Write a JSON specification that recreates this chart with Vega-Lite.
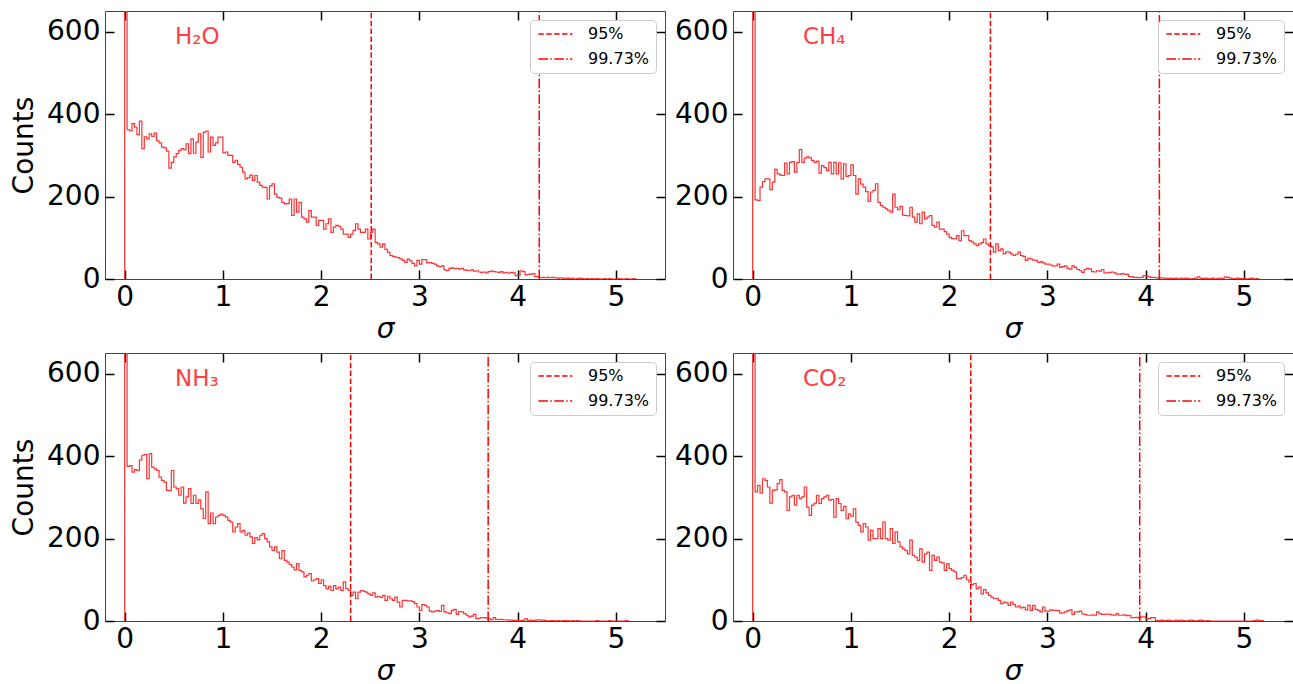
{
"$schema": "https://vega.github.io/schema/vega-lite/v6.json",
"background": "white",
"padding": {"left": 10, "top": 10, "right": 0, "bottom": 0},
"config": {
  "font": "DejaVu Sans",
  "view": {"stroke": null},
  "axis": {"labelFont": "DejaVu Sans", "labelFontSize": 28, "labelColor": "black", "titleFont": "DejaVu Sans", "titleFontSize": 28, "titleFontWeight": "normal", "titleColor": "black", "tickColor": "black", "tickWidth": 1.5, "tickSize": -9, "domainColor": "#444444", "domainWidth": 1, "grid": false, "zindex": 1},
  "legend": {"orient": "top-right", "offset": 9, "symbolType": "M-1,0H5", "symbolSize": 128, "symbolStrokeWidth": 1.5, "symbolStrokeColor": "#ff0000", "labelFont": "DejaVu Sans", "labelFontSize": 16, "labelColor": "black", "labelOffset": 36, "padding": 6, "rowPadding": 9, "fillColor": "white", "strokeColor": "#cccccc", "cornerRadius": 4},
  "title": {"font": "DejaVu Sans", "fontSize": 23, "fontWeight": "normal", "color": "#ff4040", "anchor": "start", "frame": "group", "baseline": "alphabetic", "dx": 70, "offset": -39}
},
"datasets": {
"lim": [
{"m":"H2O","k":"95%","v":2.51},{"m":"H2O","k":"99.73%","v":4.22},
{"m":"CH4","k":"95%","v":2.42},{"m":"CH4","k":"99.73%","v":4.14},
{"m":"NH3","k":"95%","v":2.30},{"m":"NH3","k":"99.73%","v":3.70},
{"m":"CO2","k":"95%","v":2.22},{"m":"CO2","k":"99.73%","v":3.94}
],
"hist": [
{"m":"H2O","x":0,"n":0},{"m":"H2O","x":0,"n":1500},
{"m":"H2O","x":0.025,"n":362},{"m":"H2O","x":0.05,"n":360},{"m":"H2O","x":0.075,"n":377},{"m":"H2O","x":0.1,"n":368},{"m":"H2O","x":0.125,"n":350},{"m":"H2O","x":0.15,"n":383},{"m":"H2O","x":0.175,"n":316},{"m":"H2O","x":0.2,"n":345},{"m":"H2O","x":0.225,"n":340},{"m":"H2O","x":0.25,"n":352},
{"m":"H2O","x":0.275,"n":346},{"m":"H2O","x":0.3,"n":354},{"m":"H2O","x":0.325,"n":335},{"m":"H2O","x":0.35,"n":330},{"m":"H2O","x":0.375,"n":320},{"m":"H2O","x":0.4,"n":318},{"m":"H2O","x":0.425,"n":310},{"m":"H2O","x":0.45,"n":269},{"m":"H2O","x":0.475,"n":283},{"m":"H2O","x":0.5,"n":296},
{"m":"H2O","x":0.525,"n":304},{"m":"H2O","x":0.55,"n":312},{"m":"H2O","x":0.575,"n":316},{"m":"H2O","x":0.6,"n":314},{"m":"H2O","x":0.625,"n":328},{"m":"H2O","x":0.65,"n":304},{"m":"H2O","x":0.675,"n":340},{"m":"H2O","x":0.7,"n":305},{"m":"H2O","x":0.725,"n":332},{"m":"H2O","x":0.75,"n":352},
{"m":"H2O","x":0.775,"n":295},{"m":"H2O","x":0.8,"n":356},{"m":"H2O","x":0.825,"n":359},{"m":"H2O","x":0.85,"n":308},{"m":"H2O","x":0.875,"n":344},{"m":"H2O","x":0.9,"n":324},{"m":"H2O","x":0.925,"n":330},{"m":"H2O","x":0.95,"n":344},{"m":"H2O","x":0.975,"n":344},{"m":"H2O","x":1,"n":306},
{"m":"H2O","x":1.025,"n":308},{"m":"H2O","x":1.05,"n":300},{"m":"H2O","x":1.075,"n":300},{"m":"H2O","x":1.1,"n":283},{"m":"H2O","x":1.125,"n":288},{"m":"H2O","x":1.15,"n":278},{"m":"H2O","x":1.175,"n":271},{"m":"H2O","x":1.2,"n":259},{"m":"H2O","x":1.225,"n":243},{"m":"H2O","x":1.25,"n":246},
{"m":"H2O","x":1.275,"n":252},{"m":"H2O","x":1.3,"n":239},{"m":"H2O","x":1.325,"n":251},{"m":"H2O","x":1.35,"n":235},{"m":"H2O","x":1.375,"n":227},{"m":"H2O","x":1.4,"n":223},{"m":"H2O","x":1.425,"n":222},{"m":"H2O","x":1.45,"n":194},{"m":"H2O","x":1.475,"n":226},{"m":"H2O","x":1.5,"n":231},
{"m":"H2O","x":1.525,"n":206},{"m":"H2O","x":1.55,"n":198},{"m":"H2O","x":1.575,"n":196},{"m":"H2O","x":1.6,"n":186},{"m":"H2O","x":1.625,"n":182},{"m":"H2O","x":1.65,"n":183},{"m":"H2O","x":1.675,"n":194},{"m":"H2O","x":1.7,"n":154},{"m":"H2O","x":1.725,"n":194},{"m":"H2O","x":1.75,"n":162},
{"m":"H2O","x":1.775,"n":186},{"m":"H2O","x":1.8,"n":150},{"m":"H2O","x":1.825,"n":146},{"m":"H2O","x":1.85,"n":138},{"m":"H2O","x":1.875,"n":166},{"m":"H2O","x":1.9,"n":150},{"m":"H2O","x":1.925,"n":150},{"m":"H2O","x":1.95,"n":130},{"m":"H2O","x":1.975,"n":142},{"m":"H2O","x":2,"n":142},
{"m":"H2O","x":2.025,"n":121},{"m":"H2O","x":2.05,"n":134},{"m":"H2O","x":2.075,"n":146},{"m":"H2O","x":2.1,"n":113},{"m":"H2O","x":2.125,"n":126},{"m":"H2O","x":2.15,"n":130},{"m":"H2O","x":2.175,"n":128},{"m":"H2O","x":2.2,"n":121},{"m":"H2O","x":2.225,"n":109},{"m":"H2O","x":2.25,"n":109},
{"m":"H2O","x":2.275,"n":101},{"m":"H2O","x":2.3,"n":109},{"m":"H2O","x":2.325,"n":118},{"m":"H2O","x":2.35,"n":134},{"m":"H2O","x":2.375,"n":121},{"m":"H2O","x":2.4,"n":113},{"m":"H2O","x":2.425,"n":113},{"m":"H2O","x":2.45,"n":121},{"m":"H2O","x":2.475,"n":97},{"m":"H2O","x":2.5,"n":113},
{"m":"H2O","x":2.525,"n":121},{"m":"H2O","x":2.55,"n":89},{"m":"H2O","x":2.575,"n":85},{"m":"H2O","x":2.6,"n":77},{"m":"H2O","x":2.625,"n":85},{"m":"H2O","x":2.65,"n":72},{"m":"H2O","x":2.675,"n":65},{"m":"H2O","x":2.7,"n":57},{"m":"H2O","x":2.725,"n":55},{"m":"H2O","x":2.75,"n":53},
{"m":"H2O","x":2.775,"n":52},{"m":"H2O","x":2.8,"n":49},{"m":"H2O","x":2.825,"n":45},{"m":"H2O","x":2.85,"n":40},{"m":"H2O","x":2.875,"n":48},{"m":"H2O","x":2.9,"n":44},{"m":"H2O","x":2.925,"n":38},{"m":"H2O","x":2.95,"n":32},{"m":"H2O","x":2.975,"n":45},{"m":"H2O","x":3,"n":36},
{"m":"H2O","x":3.025,"n":47},{"m":"H2O","x":3.05,"n":47},{"m":"H2O","x":3.075,"n":39},{"m":"H2O","x":3.1,"n":40},{"m":"H2O","x":3.125,"n":38},{"m":"H2O","x":3.15,"n":36},{"m":"H2O","x":3.175,"n":32},{"m":"H2O","x":3.2,"n":30},{"m":"H2O","x":3.225,"n":32},{"m":"H2O","x":3.25,"n":22},
{"m":"H2O","x":3.275,"n":20},{"m":"H2O","x":3.3,"n":26},{"m":"H2O","x":3.325,"n":27},{"m":"H2O","x":3.35,"n":25},{"m":"H2O","x":3.375,"n":26},{"m":"H2O","x":3.4,"n":24},{"m":"H2O","x":3.425,"n":26},{"m":"H2O","x":3.45,"n":22},{"m":"H2O","x":3.475,"n":21},{"m":"H2O","x":3.5,"n":20},
{"m":"H2O","x":3.525,"n":22},{"m":"H2O","x":3.55,"n":19},{"m":"H2O","x":3.575,"n":20},{"m":"H2O","x":3.6,"n":17},{"m":"H2O","x":3.625,"n":16},{"m":"H2O","x":3.65,"n":17},{"m":"H2O","x":3.675,"n":15},{"m":"H2O","x":3.7,"n":18},{"m":"H2O","x":3.725,"n":19},{"m":"H2O","x":3.75,"n":18},
{"m":"H2O","x":3.775,"n":17},{"m":"H2O","x":3.8,"n":16},{"m":"H2O","x":3.825,"n":18},{"m":"H2O","x":3.85,"n":15},{"m":"H2O","x":3.875,"n":16},{"m":"H2O","x":3.9,"n":14},{"m":"H2O","x":3.925,"n":16},{"m":"H2O","x":3.95,"n":15},{"m":"H2O","x":3.975,"n":8},{"m":"H2O","x":4,"n":9},
{"m":"H2O","x":4.025,"n":20},{"m":"H2O","x":4.05,"n":18},{"m":"H2O","x":4.075,"n":10},{"m":"H2O","x":4.1,"n":11},{"m":"H2O","x":4.125,"n":12},{"m":"H2O","x":4.15,"n":13},{"m":"H2O","x":4.175,"n":6},{"m":"H2O","x":4.2,"n":5},{"m":"H2O","x":4.225,"n":3},{"m":"H2O","x":4.25,"n":4},
{"m":"H2O","x":4.275,"n":3},{"m":"H2O","x":4.3,"n":4},{"m":"H2O","x":4.325,"n":3},{"m":"H2O","x":4.35,"n":4},{"m":"H2O","x":4.375,"n":3},{"m":"H2O","x":4.4,"n":2},{"m":"H2O","x":4.425,"n":3},{"m":"H2O","x":4.45,"n":2},{"m":"H2O","x":4.475,"n":1},{"m":"H2O","x":4.5,"n":2},
{"m":"H2O","x":4.525,"n":1},{"m":"H2O","x":4.55,"n":2},{"m":"H2O","x":4.575,"n":0},{"m":"H2O","x":4.6,"n":1},{"m":"H2O","x":4.625,"n":2},{"m":"H2O","x":4.65,"n":1},{"m":"H2O","x":4.675,"n":0},{"m":"H2O","x":4.7,"n":1},{"m":"H2O","x":4.725,"n":0},{"m":"H2O","x":4.75,"n":1},
{"m":"H2O","x":4.775,"n":0},{"m":"H2O","x":4.8,"n":1},{"m":"H2O","x":4.825,"n":0},{"m":"H2O","x":4.85,"n":0},{"m":"H2O","x":4.875,"n":1},{"m":"H2O","x":4.9,"n":0},{"m":"H2O","x":4.925,"n":1},{"m":"H2O","x":4.95,"n":0},{"m":"H2O","x":4.975,"n":0},{"m":"H2O","x":5,"n":0},
{"m":"H2O","x":5.025,"n":1},{"m":"H2O","x":5.05,"n":0},{"m":"H2O","x":5.075,"n":0},{"m":"H2O","x":5.1,"n":1},{"m":"H2O","x":5.125,"n":0},{"m":"H2O","x":5.15,"n":0},{"m":"H2O","x":5.175,"n":1},{"m":"H2O","x":5.2,"n":0},

{"m":"CH4","x":0,"n":0},{"m":"CH4","x":0,"n":1500},
{"m":"CH4","x":0.025,"n":192},{"m":"CH4","x":0.05,"n":190},{"m":"CH4","x":0.075,"n":223},{"m":"CH4","x":0.1,"n":236},{"m":"CH4","x":0.125,"n":243},{"m":"CH4","x":0.15,"n":243},{"m":"CH4","x":0.175,"n":217},{"m":"CH4","x":0.2,"n":235},{"m":"CH4","x":0.225,"n":266},{"m":"CH4","x":0.25,"n":255},
{"m":"CH4","x":0.275,"n":252},{"m":"CH4","x":0.3,"n":251},{"m":"CH4","x":0.325,"n":281},{"m":"CH4","x":0.35,"n":255},{"m":"CH4","x":0.375,"n":283},{"m":"CH4","x":0.4,"n":285},{"m":"CH4","x":0.425,"n":259},{"m":"CH4","x":0.45,"n":283},{"m":"CH4","x":0.475,"n":314},{"m":"CH4","x":0.5,"n":283},
{"m":"CH4","x":0.525,"n":293},{"m":"CH4","x":0.55,"n":296},{"m":"CH4","x":0.575,"n":294},{"m":"CH4","x":0.6,"n":287},{"m":"CH4","x":0.625,"n":283},{"m":"CH4","x":0.65,"n":286},{"m":"CH4","x":0.675,"n":257},{"m":"CH4","x":0.7,"n":275},{"m":"CH4","x":0.725,"n":270},{"m":"CH4","x":0.75,"n":263},
{"m":"CH4","x":0.775,"n":283},{"m":"CH4","x":0.8,"n":255},{"m":"CH4","x":0.825,"n":283},{"m":"CH4","x":0.85,"n":255},{"m":"CH4","x":0.875,"n":282},{"m":"CH4","x":0.9,"n":243},{"m":"CH4","x":0.925,"n":279},{"m":"CH4","x":0.95,"n":249},{"m":"CH4","x":0.975,"n":251},{"m":"CH4","x":1,"n":277},
{"m":"CH4","x":1.025,"n":251},{"m":"CH4","x":1.05,"n":206},{"m":"CH4","x":1.075,"n":243},{"m":"CH4","x":1.1,"n":230},{"m":"CH4","x":1.125,"n":223},{"m":"CH4","x":1.15,"n":212},{"m":"CH4","x":1.175,"n":188},{"m":"CH4","x":1.2,"n":211},{"m":"CH4","x":1.225,"n":215},{"m":"CH4","x":1.25,"n":231},
{"m":"CH4","x":1.275,"n":186},{"m":"CH4","x":1.3,"n":178},{"m":"CH4","x":1.325,"n":174},{"m":"CH4","x":1.35,"n":170},{"m":"CH4","x":1.375,"n":166},{"m":"CH4","x":1.4,"n":162},{"m":"CH4","x":1.425,"n":206},{"m":"CH4","x":1.45,"n":174},{"m":"CH4","x":1.475,"n":168},{"m":"CH4","x":1.5,"n":176},
{"m":"CH4","x":1.525,"n":155},{"m":"CH4","x":1.55,"n":154},{"m":"CH4","x":1.575,"n":153},{"m":"CH4","x":1.6,"n":174},{"m":"CH4","x":1.625,"n":150},{"m":"CH4","x":1.65,"n":138},{"m":"CH4","x":1.675,"n":158},{"m":"CH4","x":1.7,"n":134},{"m":"CH4","x":1.725,"n":162},{"m":"CH4","x":1.75,"n":146},
{"m":"CH4","x":1.775,"n":150},{"m":"CH4","x":1.8,"n":154},{"m":"CH4","x":1.825,"n":130},{"m":"CH4","x":1.85,"n":126},{"m":"CH4","x":1.875,"n":138},{"m":"CH4","x":1.9,"n":121},{"m":"CH4","x":1.925,"n":121},{"m":"CH4","x":1.95,"n":115},{"m":"CH4","x":1.975,"n":109},{"m":"CH4","x":2,"n":101},
{"m":"CH4","x":2.025,"n":98},{"m":"CH4","x":2.05,"n":97},{"m":"CH4","x":2.075,"n":105},{"m":"CH4","x":2.1,"n":93},{"m":"CH4","x":2.125,"n":117},{"m":"CH4","x":2.15,"n":105},{"m":"CH4","x":2.175,"n":105},{"m":"CH4","x":2.2,"n":93},{"m":"CH4","x":2.225,"n":90},{"m":"CH4","x":2.25,"n":85},
{"m":"CH4","x":2.275,"n":81},{"m":"CH4","x":2.3,"n":85},{"m":"CH4","x":2.325,"n":88},{"m":"CH4","x":2.35,"n":97},{"m":"CH4","x":2.375,"n":85},{"m":"CH4","x":2.4,"n":81},{"m":"CH4","x":2.425,"n":78},{"m":"CH4","x":2.45,"n":65},{"m":"CH4","x":2.475,"n":85},{"m":"CH4","x":2.5,"n":69},
{"m":"CH4","x":2.525,"n":73},{"m":"CH4","x":2.55,"n":61},{"m":"CH4","x":2.575,"n":66},{"m":"CH4","x":2.6,"n":65},{"m":"CH4","x":2.625,"n":61},{"m":"CH4","x":2.65,"n":57},{"m":"CH4","x":2.675,"n":60},{"m":"CH4","x":2.7,"n":65},{"m":"CH4","x":2.725,"n":57},{"m":"CH4","x":2.75,"n":55},
{"m":"CH4","x":2.775,"n":45},{"m":"CH4","x":2.8,"n":50},{"m":"CH4","x":2.825,"n":48},{"m":"CH4","x":2.85,"n":46},{"m":"CH4","x":2.875,"n":45},{"m":"CH4","x":2.9,"n":40},{"m":"CH4","x":2.925,"n":42},{"m":"CH4","x":2.95,"n":39},{"m":"CH4","x":2.975,"n":36},{"m":"CH4","x":3,"n":36},
{"m":"CH4","x":3.025,"n":34},{"m":"CH4","x":3.05,"n":32},{"m":"CH4","x":3.075,"n":32},{"m":"CH4","x":3.1,"n":36},{"m":"CH4","x":3.125,"n":28},{"m":"CH4","x":3.15,"n":30},{"m":"CH4","x":3.175,"n":32},{"m":"CH4","x":3.2,"n":26},{"m":"CH4","x":3.225,"n":24},{"m":"CH4","x":3.25,"n":32},
{"m":"CH4","x":3.275,"n":28},{"m":"CH4","x":3.3,"n":23},{"m":"CH4","x":3.325,"n":20},{"m":"CH4","x":3.35,"n":16},{"m":"CH4","x":3.375,"n":23},{"m":"CH4","x":3.4,"n":26},{"m":"CH4","x":3.425,"n":24},{"m":"CH4","x":3.45,"n":18},{"m":"CH4","x":3.475,"n":17},{"m":"CH4","x":3.5,"n":20},
{"m":"CH4","x":3.525,"n":19},{"m":"CH4","x":3.55,"n":23},{"m":"CH4","x":3.575,"n":15},{"m":"CH4","x":3.6,"n":15},{"m":"CH4","x":3.625,"n":16},{"m":"CH4","x":3.65,"n":17},{"m":"CH4","x":3.675,"n":15},{"m":"CH4","x":3.7,"n":12},{"m":"CH4","x":3.725,"n":12},{"m":"CH4","x":3.75,"n":13},
{"m":"CH4","x":3.775,"n":12},{"m":"CH4","x":3.8,"n":11},{"m":"CH4","x":3.825,"n":6},{"m":"CH4","x":3.85,"n":6},{"m":"CH4","x":3.875,"n":4},{"m":"CH4","x":3.9,"n":4},{"m":"CH4","x":3.925,"n":3},{"m":"CH4","x":3.95,"n":4},{"m":"CH4","x":3.975,"n":8},{"m":"CH4","x":4,"n":7},
{"m":"CH4","x":4.025,"n":5},{"m":"CH4","x":4.05,"n":4},{"m":"CH4","x":4.075,"n":4},{"m":"CH4","x":4.1,"n":3},{"m":"CH4","x":4.125,"n":2},{"m":"CH4","x":4.15,"n":3},{"m":"CH4","x":4.175,"n":2},{"m":"CH4","x":4.2,"n":2},{"m":"CH4","x":4.225,"n":1},{"m":"CH4","x":4.25,"n":2},
{"m":"CH4","x":4.275,"n":1},{"m":"CH4","x":4.3,"n":2},{"m":"CH4","x":4.325,"n":0},{"m":"CH4","x":4.35,"n":2},{"m":"CH4","x":4.375,"n":1},{"m":"CH4","x":4.4,"n":2},{"m":"CH4","x":4.425,"n":1},{"m":"CH4","x":4.45,"n":0},{"m":"CH4","x":4.475,"n":1},{"m":"CH4","x":4.5,"n":2},
{"m":"CH4","x":4.525,"n":5},{"m":"CH4","x":4.55,"n":2},{"m":"CH4","x":4.575,"n":1},{"m":"CH4","x":4.6,"n":2},{"m":"CH4","x":4.625,"n":1},{"m":"CH4","x":4.65,"n":1},{"m":"CH4","x":4.675,"n":2},{"m":"CH4","x":4.7,"n":0},{"m":"CH4","x":4.725,"n":1},{"m":"CH4","x":4.75,"n":2},
{"m":"CH4","x":4.775,"n":1},{"m":"CH4","x":4.8,"n":5},{"m":"CH4","x":4.825,"n":4},{"m":"CH4","x":4.85,"n":2},{"m":"CH4","x":4.875,"n":1},{"m":"CH4","x":4.9,"n":1},{"m":"CH4","x":4.925,"n":2},{"m":"CH4","x":4.95,"n":1},{"m":"CH4","x":4.975,"n":1},{"m":"CH4","x":5,"n":1},
{"m":"CH4","x":5.025,"n":0},{"m":"CH4","x":5.05,"n":1},{"m":"CH4","x":5.075,"n":2},{"m":"CH4","x":5.1,"n":0},{"m":"CH4","x":5.125,"n":1},{"m":"CH4","x":5.15,"n":0},

{"m":"NH3","x":0,"n":0},{"m":"NH3","x":0,"n":1500},
{"m":"NH3","x":0.025,"n":375},{"m":"NH3","x":0.05,"n":377},{"m":"NH3","x":0.075,"n":361},{"m":"NH3","x":0.1,"n":367},{"m":"NH3","x":0.125,"n":365},{"m":"NH3","x":0.15,"n":390},{"m":"NH3","x":0.175,"n":402},{"m":"NH3","x":0.2,"n":404},{"m":"NH3","x":0.225,"n":345},{"m":"NH3","x":0.25,"n":406},
{"m":"NH3","x":0.275,"n":373},{"m":"NH3","x":0.3,"n":369},{"m":"NH3","x":0.325,"n":365},{"m":"NH3","x":0.35,"n":349},{"m":"NH3","x":0.375,"n":341},{"m":"NH3","x":0.4,"n":337},{"m":"NH3","x":0.425,"n":317},{"m":"NH3","x":0.45,"n":316},{"m":"NH3","x":0.475,"n":365},{"m":"NH3","x":0.5,"n":325},
{"m":"NH3","x":0.525,"n":321},{"m":"NH3","x":0.55,"n":305},{"m":"NH3","x":0.575,"n":325},{"m":"NH3","x":0.6,"n":286},{"m":"NH3","x":0.625,"n":301},{"m":"NH3","x":0.65,"n":321},{"m":"NH3","x":0.675,"n":285},{"m":"NH3","x":0.7,"n":305},{"m":"NH3","x":0.725,"n":285},{"m":"NH3","x":0.75,"n":294},
{"m":"NH3","x":0.775,"n":272},{"m":"NH3","x":0.8,"n":248},{"m":"NH3","x":0.825,"n":313},{"m":"NH3","x":0.85,"n":236},{"m":"NH3","x":0.875,"n":262},{"m":"NH3","x":0.9,"n":236},{"m":"NH3","x":0.925,"n":252},{"m":"NH3","x":0.95,"n":256},{"m":"NH3","x":0.975,"n":259},{"m":"NH3","x":1,"n":256},
{"m":"NH3","x":1.025,"n":252},{"m":"NH3","x":1.05,"n":244},{"m":"NH3","x":1.075,"n":240},{"m":"NH3","x":1.1,"n":216},{"m":"NH3","x":1.125,"n":228},{"m":"NH3","x":1.15,"n":236},{"m":"NH3","x":1.175,"n":216},{"m":"NH3","x":1.2,"n":220},{"m":"NH3","x":1.225,"n":208},{"m":"NH3","x":1.25,"n":213},
{"m":"NH3","x":1.275,"n":204},{"m":"NH3","x":1.3,"n":188},{"m":"NH3","x":1.325,"n":202},{"m":"NH3","x":1.35,"n":197},{"m":"NH3","x":1.375,"n":208},{"m":"NH3","x":1.4,"n":212},{"m":"NH3","x":1.425,"n":200},{"m":"NH3","x":1.45,"n":192},{"m":"NH3","x":1.475,"n":180},{"m":"NH3","x":1.5,"n":171},
{"m":"NH3","x":1.525,"n":180},{"m":"NH3","x":1.55,"n":167},{"m":"NH3","x":1.575,"n":151},{"m":"NH3","x":1.6,"n":171},{"m":"NH3","x":1.625,"n":147},{"m":"NH3","x":1.65,"n":143},{"m":"NH3","x":1.675,"n":137},{"m":"NH3","x":1.7,"n":131},{"m":"NH3","x":1.725,"n":124},{"m":"NH3","x":1.75,"n":139},
{"m":"NH3","x":1.775,"n":123},{"m":"NH3","x":1.8,"n":119},{"m":"NH3","x":1.825,"n":107},{"m":"NH3","x":1.85,"n":111},{"m":"NH3","x":1.875,"n":115},{"m":"NH3","x":1.9,"n":97},{"m":"NH3","x":1.925,"n":100},{"m":"NH3","x":1.95,"n":103},{"m":"NH3","x":1.975,"n":91},{"m":"NH3","x":2,"n":100},
{"m":"NH3","x":2.025,"n":86},{"m":"NH3","x":2.05,"n":78},{"m":"NH3","x":2.075,"n":84},{"m":"NH3","x":2.1,"n":74},{"m":"NH3","x":2.125,"n":86},{"m":"NH3","x":2.15,"n":78},{"m":"NH3","x":2.175,"n":82},{"m":"NH3","x":2.2,"n":74},{"m":"NH3","x":2.225,"n":95},{"m":"NH3","x":2.25,"n":78},
{"m":"NH3","x":2.275,"n":74},{"m":"NH3","x":2.3,"n":62},{"m":"NH3","x":2.325,"n":70},{"m":"NH3","x":2.35,"n":54},{"m":"NH3","x":2.375,"n":70},{"m":"NH3","x":2.4,"n":74},{"m":"NH3","x":2.425,"n":72},{"m":"NH3","x":2.45,"n":70},{"m":"NH3","x":2.475,"n":66},{"m":"NH3","x":2.5,"n":62},
{"m":"NH3","x":2.525,"n":68},{"m":"NH3","x":2.55,"n":58},{"m":"NH3","x":2.575,"n":60},{"m":"NH3","x":2.6,"n":57},{"m":"NH3","x":2.625,"n":62},{"m":"NH3","x":2.65,"n":50},{"m":"NH3","x":2.675,"n":60},{"m":"NH3","x":2.7,"n":54},{"m":"NH3","x":2.725,"n":50},{"m":"NH3","x":2.75,"n":58},
{"m":"NH3","x":2.775,"n":46},{"m":"NH3","x":2.8,"n":34},{"m":"NH3","x":2.825,"n":50},{"m":"NH3","x":2.85,"n":50},{"m":"NH3","x":2.875,"n":49},{"m":"NH3","x":2.9,"n":49},{"m":"NH3","x":2.925,"n":47},{"m":"NH3","x":2.95,"n":42},{"m":"NH3","x":2.975,"n":34},{"m":"NH3","x":3,"n":26},
{"m":"NH3","x":3.025,"n":40},{"m":"NH3","x":3.05,"n":38},{"m":"NH3","x":3.075,"n":34},{"m":"NH3","x":3.1,"n":24},{"m":"NH3","x":3.125,"n":22},{"m":"NH3","x":3.15,"n":24},{"m":"NH3","x":3.175,"n":25},{"m":"NH3","x":3.2,"n":23},{"m":"NH3","x":3.225,"n":38},{"m":"NH3","x":3.25,"n":22},
{"m":"NH3","x":3.275,"n":20},{"m":"NH3","x":3.3,"n":18},{"m":"NH3","x":3.325,"n":26},{"m":"NH3","x":3.35,"n":28},{"m":"NH3","x":3.375,"n":16},{"m":"NH3","x":3.4,"n":23},{"m":"NH3","x":3.425,"n":22},{"m":"NH3","x":3.45,"n":18},{"m":"NH3","x":3.475,"n":14},{"m":"NH3","x":3.5,"n":10},
{"m":"NH3","x":3.525,"n":12},{"m":"NH3","x":3.55,"n":16},{"m":"NH3","x":3.575,"n":6},{"m":"NH3","x":3.6,"n":7},{"m":"NH3","x":3.625,"n":8},{"m":"NH3","x":3.65,"n":8},{"m":"NH3","x":3.675,"n":7},{"m":"NH3","x":3.7,"n":5},{"m":"NH3","x":3.725,"n":3},{"m":"NH3","x":3.75,"n":8},
{"m":"NH3","x":3.775,"n":4},{"m":"NH3","x":3.8,"n":3},{"m":"NH3","x":3.825,"n":4},{"m":"NH3","x":3.85,"n":3},{"m":"NH3","x":3.875,"n":3},{"m":"NH3","x":3.9,"n":2},{"m":"NH3","x":3.925,"n":2},{"m":"NH3","x":3.95,"n":1},{"m":"NH3","x":3.975,"n":2},{"m":"NH3","x":4,"n":1},
{"m":"NH3","x":4.025,"n":1},{"m":"NH3","x":4.05,"n":2},{"m":"NH3","x":4.075,"n":5},{"m":"NH3","x":4.1,"n":1},{"m":"NH3","x":4.125,"n":2},{"m":"NH3","x":4.15,"n":1},{"m":"NH3","x":4.175,"n":2},{"m":"NH3","x":4.2,"n":3},{"m":"NH3","x":4.225,"n":2},{"m":"NH3","x":4.25,"n":2},
{"m":"NH3","x":4.275,"n":1},{"m":"NH3","x":4.3,"n":0},{"m":"NH3","x":4.325,"n":1},{"m":"NH3","x":4.35,"n":1},{"m":"NH3","x":4.375,"n":0},{"m":"NH3","x":4.4,"n":1},{"m":"NH3","x":4.425,"n":0},{"m":"NH3","x":4.45,"n":1},{"m":"NH3","x":4.475,"n":1},{"m":"NH3","x":4.5,"n":1},
{"m":"NH3","x":4.525,"n":0},{"m":"NH3","x":4.55,"n":1},{"m":"NH3","x":4.575,"n":0},{"m":"NH3","x":4.6,"n":1},{"m":"NH3","x":4.625,"n":0},{"m":"NH3","x":4.65,"n":0},{"m":"NH3","x":4.675,"n":0},{"m":"NH3","x":4.7,"n":0},{"m":"NH3","x":4.725,"n":0},{"m":"NH3","x":4.75,"n":0},
{"m":"NH3","x":4.775,"n":0},{"m":"NH3","x":4.8,"n":1},{"m":"NH3","x":4.825,"n":0},{"m":"NH3","x":4.85,"n":0},{"m":"NH3","x":4.875,"n":0},{"m":"NH3","x":4.9,"n":0},{"m":"NH3","x":4.925,"n":1},{"m":"NH3","x":4.95,"n":0},{"m":"NH3","x":4.975,"n":0},{"m":"NH3","x":5,"n":0},
{"m":"NH3","x":5.025,"n":0},{"m":"NH3","x":5.05,"n":0},{"m":"NH3","x":5.075,"n":0},{"m":"NH3","x":5.1,"n":1},{"m":"NH3","x":5.125,"n":0},

{"m":"CO2","x":0,"n":0},{"m":"CO2","x":0,"n":1500},
{"m":"CO2","x":0.025,"n":313},{"m":"CO2","x":0.05,"n":329},{"m":"CO2","x":0.075,"n":310},{"m":"CO2","x":0.1,"n":345},{"m":"CO2","x":0.125,"n":341},{"m":"CO2","x":0.15,"n":325},{"m":"CO2","x":0.175,"n":286},{"m":"CO2","x":0.2,"n":317},{"m":"CO2","x":0.225,"n":318},{"m":"CO2","x":0.25,"n":333},
{"m":"CO2","x":0.275,"n":343},{"m":"CO2","x":0.3,"n":317},{"m":"CO2","x":0.325,"n":313},{"m":"CO2","x":0.35,"n":268},{"m":"CO2","x":0.375,"n":301},{"m":"CO2","x":0.4,"n":305},{"m":"CO2","x":0.425,"n":281},{"m":"CO2","x":0.45,"n":305},{"m":"CO2","x":0.475,"n":297},{"m":"CO2","x":0.5,"n":301},
{"m":"CO2","x":0.525,"n":325},{"m":"CO2","x":0.55,"n":276},{"m":"CO2","x":0.575,"n":256},{"m":"CO2","x":0.6,"n":281},{"m":"CO2","x":0.625,"n":286},{"m":"CO2","x":0.65,"n":305},{"m":"CO2","x":0.675,"n":285},{"m":"CO2","x":0.7,"n":297},{"m":"CO2","x":0.725,"n":301},{"m":"CO2","x":0.75,"n":305},
{"m":"CO2","x":0.775,"n":293},{"m":"CO2","x":0.8,"n":295},{"m":"CO2","x":0.825,"n":252},{"m":"CO2","x":0.85,"n":297},{"m":"CO2","x":0.875,"n":285},{"m":"CO2","x":0.9,"n":268},{"m":"CO2","x":0.925,"n":278},{"m":"CO2","x":0.95,"n":248},{"m":"CO2","x":0.975,"n":260},{"m":"CO2","x":1,"n":254},
{"m":"CO2","x":1.025,"n":272},{"m":"CO2","x":1.05,"n":240},{"m":"CO2","x":1.075,"n":232},{"m":"CO2","x":1.1,"n":216},{"m":"CO2","x":1.125,"n":236},{"m":"CO2","x":1.15,"n":228},{"m":"CO2","x":1.175,"n":196},{"m":"CO2","x":1.2,"n":220},{"m":"CO2","x":1.225,"n":200},{"m":"CO2","x":1.25,"n":200},
{"m":"CO2","x":1.275,"n":224},{"m":"CO2","x":1.3,"n":200},{"m":"CO2","x":1.325,"n":240},{"m":"CO2","x":1.35,"n":200},{"m":"CO2","x":1.375,"n":196},{"m":"CO2","x":1.4,"n":224},{"m":"CO2","x":1.425,"n":188},{"m":"CO2","x":1.45,"n":216},{"m":"CO2","x":1.475,"n":192},{"m":"CO2","x":1.5,"n":180},
{"m":"CO2","x":1.525,"n":175},{"m":"CO2","x":1.55,"n":171},{"m":"CO2","x":1.575,"n":163},{"m":"CO2","x":1.6,"n":196},{"m":"CO2","x":1.625,"n":159},{"m":"CO2","x":1.65,"n":155},{"m":"CO2","x":1.675,"n":147},{"m":"CO2","x":1.7,"n":175},{"m":"CO2","x":1.725,"n":143},{"m":"CO2","x":1.75,"n":163},
{"m":"CO2","x":1.775,"n":167},{"m":"CO2","x":1.8,"n":123},{"m":"CO2","x":1.825,"n":159},{"m":"CO2","x":1.85,"n":147},{"m":"CO2","x":1.875,"n":155},{"m":"CO2","x":1.9,"n":143},{"m":"CO2","x":1.925,"n":141},{"m":"CO2","x":1.95,"n":123},{"m":"CO2","x":1.975,"n":139},{"m":"CO2","x":2,"n":127},
{"m":"CO2","x":2.025,"n":123},{"m":"CO2","x":2.05,"n":119},{"m":"CO2","x":2.075,"n":103},{"m":"CO2","x":2.1,"n":103},{"m":"CO2","x":2.125,"n":105},{"m":"CO2","x":2.15,"n":111},{"m":"CO2","x":2.175,"n":100},{"m":"CO2","x":2.2,"n":95},{"m":"CO2","x":2.225,"n":88},{"m":"CO2","x":2.25,"n":91},
{"m":"CO2","x":2.275,"n":78},{"m":"CO2","x":2.3,"n":82},{"m":"CO2","x":2.325,"n":66},{"m":"CO2","x":2.35,"n":76},{"m":"CO2","x":2.375,"n":68},{"m":"CO2","x":2.4,"n":62},{"m":"CO2","x":2.425,"n":58},{"m":"CO2","x":2.45,"n":54},{"m":"CO2","x":2.475,"n":55},{"m":"CO2","x":2.5,"n":50},
{"m":"CO2","x":2.525,"n":42},{"m":"CO2","x":2.55,"n":46},{"m":"CO2","x":2.575,"n":44},{"m":"CO2","x":2.6,"n":38},{"m":"CO2","x":2.625,"n":46},{"m":"CO2","x":2.65,"n":40},{"m":"CO2","x":2.675,"n":34},{"m":"CO2","x":2.7,"n":36},{"m":"CO2","x":2.725,"n":32},{"m":"CO2","x":2.75,"n":33},
{"m":"CO2","x":2.775,"n":27},{"m":"CO2","x":2.8,"n":38},{"m":"CO2","x":2.825,"n":26},{"m":"CO2","x":2.85,"n":38},{"m":"CO2","x":2.875,"n":28},{"m":"CO2","x":2.9,"n":26},{"m":"CO2","x":2.925,"n":22},{"m":"CO2","x":2.95,"n":34},{"m":"CO2","x":2.975,"n":24},{"m":"CO2","x":3,"n":24},
{"m":"CO2","x":3.025,"n":27},{"m":"CO2","x":3.05,"n":26},{"m":"CO2","x":3.075,"n":26},{"m":"CO2","x":3.1,"n":25},{"m":"CO2","x":3.125,"n":19},{"m":"CO2","x":3.15,"n":20},{"m":"CO2","x":3.175,"n":22},{"m":"CO2","x":3.2,"n":25},{"m":"CO2","x":3.225,"n":27},{"m":"CO2","x":3.25,"n":16},
{"m":"CO2","x":3.275,"n":22},{"m":"CO2","x":3.3,"n":22},{"m":"CO2","x":3.325,"n":24},{"m":"CO2","x":3.35,"n":17},{"m":"CO2","x":3.375,"n":16},{"m":"CO2","x":3.4,"n":14},{"m":"CO2","x":3.425,"n":14},{"m":"CO2","x":3.45,"n":15},{"m":"CO2","x":3.475,"n":14},{"m":"CO2","x":3.5,"n":22},
{"m":"CO2","x":3.525,"n":18},{"m":"CO2","x":3.55,"n":16},{"m":"CO2","x":3.575,"n":16},{"m":"CO2","x":3.6,"n":17},{"m":"CO2","x":3.625,"n":16},{"m":"CO2","x":3.65,"n":15},{"m":"CO2","x":3.675,"n":14},{"m":"CO2","x":3.7,"n":18},{"m":"CO2","x":3.725,"n":14},{"m":"CO2","x":3.75,"n":14},
{"m":"CO2","x":3.775,"n":15},{"m":"CO2","x":3.8,"n":13},{"m":"CO2","x":3.825,"n":14},{"m":"CO2","x":3.85,"n":8},{"m":"CO2","x":3.875,"n":8},{"m":"CO2","x":3.9,"n":9},{"m":"CO2","x":3.925,"n":7},{"m":"CO2","x":3.95,"n":10},{"m":"CO2","x":3.975,"n":10},{"m":"CO2","x":4,"n":5},
{"m":"CO2","x":4.025,"n":6},{"m":"CO2","x":4.05,"n":8},{"m":"CO2","x":4.075,"n":8},{"m":"CO2","x":4.1,"n":1},{"m":"CO2","x":4.125,"n":1},{"m":"CO2","x":4.15,"n":2},{"m":"CO2","x":4.175,"n":1},{"m":"CO2","x":4.2,"n":1},{"m":"CO2","x":4.225,"n":2},{"m":"CO2","x":4.25,"n":1},
{"m":"CO2","x":4.275,"n":0},{"m":"CO2","x":4.3,"n":2},{"m":"CO2","x":4.325,"n":1},{"m":"CO2","x":4.35,"n":2},{"m":"CO2","x":4.375,"n":1},{"m":"CO2","x":4.4,"n":0},{"m":"CO2","x":4.425,"n":1},{"m":"CO2","x":4.45,"n":2},{"m":"CO2","x":4.475,"n":1},{"m":"CO2","x":4.5,"n":0},
{"m":"CO2","x":4.525,"n":1},{"m":"CO2","x":4.55,"n":2},{"m":"CO2","x":4.575,"n":1},{"m":"CO2","x":4.6,"n":0},{"m":"CO2","x":4.625,"n":1},{"m":"CO2","x":4.65,"n":0},{"m":"CO2","x":4.675,"n":0},{"m":"CO2","x":4.7,"n":0},{"m":"CO2","x":4.725,"n":0},{"m":"CO2","x":4.75,"n":0},
{"m":"CO2","x":4.775,"n":0},{"m":"CO2","x":4.8,"n":0},{"m":"CO2","x":4.825,"n":0},{"m":"CO2","x":4.85,"n":0},{"m":"CO2","x":4.875,"n":0},{"m":"CO2","x":4.9,"n":0},{"m":"CO2","x":4.925,"n":0},{"m":"CO2","x":4.95,"n":0},{"m":"CO2","x":4.975,"n":0},{"m":"CO2","x":5,"n":0},
{"m":"CO2","x":5.025,"n":0},{"m":"CO2","x":5.05,"n":0},{"m":"CO2","x":5.075,"n":0},{"m":"CO2","x":5.1,"n":1},{"m":"CO2","x":5.125,"n":2},{"m":"CO2","x":5.15,"n":1},{"m":"CO2","x":5.175,"n":1},{"m":"CO2","x":5.2,"n":0}
]
},
"columns": 2,
"spacing": {"row": 9, "column": 8},
"resolve": {"scale": {"strokeDash": "independent"}, "legend": {"strokeDash": "independent"}},
"concat": [
{
 "width": 560, "height": 268,
 "title": {"text": "H₂O"},
 "resolve": {"axis": {"x": "independent", "y": "independent"}},
 "layer": [
  {"data": {"name": "hist"}, "transform": [{"filter": "datum.m === 'H2O'"}],
   "mark": {"type": "line", "interpolate": "step-after", "color": "#ff3333", "strokeWidth": 1.2, "clip": true},
   "encoding": {
    "x": {"field": "x", "type": "quantitative", "scale": {"domain": [-0.2, 5.5], "nice": false, "zero": false}, "axis": {"orient": "bottom", "values": [0,1,2,3,4,5], "title": "σ", "titleFontStyle": "italic", "labelPadding": 13, "titlePadding": 4}},
    "y": {"field": "n", "type": "quantitative", "scale": {"domain": [0, 650], "nice": false}, "axis": {"orient": "left", "values": [0,200,400,600], "title": "Counts", "labelPadding": 14, "titlePadding": 8}},
    "order": {"value": null}}},
  {"data": {"name": "lim"}, "transform": [{"filter": "datum.m === 'H2O'"}],
   "mark": {"type": "rule", "color": "#ff0000", "strokeWidth": 1.5},
   "encoding": {
    "x": {"field": "v", "type": "quantitative", "axis": {"orient": "top", "values": [0,1,2,3,4,5], "labels": false, "title": null}},
    "y": {"datum": 0, "axis": {"orient": "right", "values": [0,200,400,600], "labels": false, "title": null}},
    "y2": {"datum": 650},
    "strokeDash": {"field": "k", "type": "nominal", "scale": {"domain": ["95%", "99.73%"], "range": [[5.5, 2.4], [9.6, 2.4, 1.5, 2.4]]}, "legend": {"title": null}}}}
 ]
},
{
 "width": 560, "height": 268,
 "title": {"text": "CH₄"},
 "resolve": {"axis": {"x": "independent", "y": "independent"}},
 "layer": [
  {"data": {"name": "hist"}, "transform": [{"filter": "datum.m === 'CH4'"}],
   "mark": {"type": "line", "interpolate": "step-after", "color": "#ff3333", "strokeWidth": 1.2, "clip": true},
   "encoding": {
    "x": {"field": "x", "type": "quantitative", "scale": {"domain": [-0.2, 5.5], "nice": false, "zero": false}, "axis": {"orient": "bottom", "values": [0,1,2,3,4,5], "title": "σ", "titleFontStyle": "italic", "labelPadding": 13, "titlePadding": 4}},
    "y": {"field": "n", "type": "quantitative", "scale": {"domain": [0, 650], "nice": false}, "axis": {"orient": "left", "values": [0,200,400,600], "title": null, "labelPadding": 14}},
    "order": {"value": null}}},
  {"data": {"name": "lim"}, "transform": [{"filter": "datum.m === 'CH4'"}],
   "mark": {"type": "rule", "color": "#ff0000", "strokeWidth": 1.5},
   "encoding": {
    "x": {"field": "v", "type": "quantitative", "axis": {"orient": "top", "values": [0,1,2,3,4,5], "labels": false, "title": null}},
    "y": {"datum": 0, "axis": {"orient": "right", "values": [0,200,400,600], "labels": false, "title": null}},
    "y2": {"datum": 650},
    "strokeDash": {"field": "k", "type": "nominal", "scale": {"domain": ["95%", "99.73%"], "range": [[5.5, 2.4], [9.6, 2.4, 1.5, 2.4]]}, "legend": {"title": null}}}}
 ]
},
{
 "width": 560, "height": 268,
 "title": {"text": "NH₃"},
 "resolve": {"axis": {"x": "independent", "y": "independent"}},
 "layer": [
  {"data": {"name": "hist"}, "transform": [{"filter": "datum.m === 'NH3'"}],
   "mark": {"type": "line", "interpolate": "step-after", "color": "#ff3333", "strokeWidth": 1.2, "clip": true},
   "encoding": {
    "x": {"field": "x", "type": "quantitative", "scale": {"domain": [-0.2, 5.5], "nice": false, "zero": false}, "axis": {"orient": "bottom", "values": [0,1,2,3,4,5], "title": "σ", "titleFontStyle": "italic", "labelPadding": 13, "titlePadding": 4}},
    "y": {"field": "n", "type": "quantitative", "scale": {"domain": [0, 650], "nice": false}, "axis": {"orient": "left", "values": [0,200,400,600], "title": "Counts", "labelPadding": 14, "titlePadding": 8}},
    "order": {"value": null}}},
  {"data": {"name": "lim"}, "transform": [{"filter": "datum.m === 'NH3'"}],
   "mark": {"type": "rule", "color": "#ff0000", "strokeWidth": 1.5},
   "encoding": {
    "x": {"field": "v", "type": "quantitative", "axis": {"orient": "top", "values": [0,1,2,3,4,5], "labels": false, "title": null}},
    "y": {"datum": 0, "axis": {"orient": "right", "values": [0,200,400,600], "labels": false, "title": null}},
    "y2": {"datum": 650},
    "strokeDash": {"field": "k", "type": "nominal", "scale": {"domain": ["95%", "99.73%"], "range": [[5.5, 2.4], [9.6, 2.4, 1.5, 2.4]]}, "legend": {"title": null}}}}
 ]
},
{
 "width": 560, "height": 268,
 "title": {"text": "CO₂"},
 "resolve": {"axis": {"x": "independent", "y": "independent"}},
 "layer": [
  {"data": {"name": "hist"}, "transform": [{"filter": "datum.m === 'CO2'"}],
   "mark": {"type": "line", "interpolate": "step-after", "color": "#ff3333", "strokeWidth": 1.2, "clip": true},
   "encoding": {
    "x": {"field": "x", "type": "quantitative", "scale": {"domain": [-0.2, 5.5], "nice": false, "zero": false}, "axis": {"orient": "bottom", "values": [0,1,2,3,4,5], "title": "σ", "titleFontStyle": "italic", "labelPadding": 13, "titlePadding": 4}},
    "y": {"field": "n", "type": "quantitative", "scale": {"domain": [0, 650], "nice": false}, "axis": {"orient": "left", "values": [0,200,400,600], "title": null, "labelPadding": 14}},
    "order": {"value": null}}},
  {"data": {"name": "lim"}, "transform": [{"filter": "datum.m === 'CO2'"}],
   "mark": {"type": "rule", "color": "#ff0000", "strokeWidth": 1.5},
   "encoding": {
    "x": {"field": "v", "type": "quantitative", "axis": {"orient": "top", "values": [0,1,2,3,4,5], "labels": false, "title": null}},
    "y": {"datum": 0, "axis": {"orient": "right", "values": [0,200,400,600], "labels": false, "title": null}},
    "y2": {"datum": 650},
    "strokeDash": {"field": "k", "type": "nominal", "scale": {"domain": ["95%", "99.73%"], "range": [[5.5, 2.4], [9.6, 2.4, 1.5, 2.4]]}, "legend": {"title": null}}}}
 ]
}
]
}
